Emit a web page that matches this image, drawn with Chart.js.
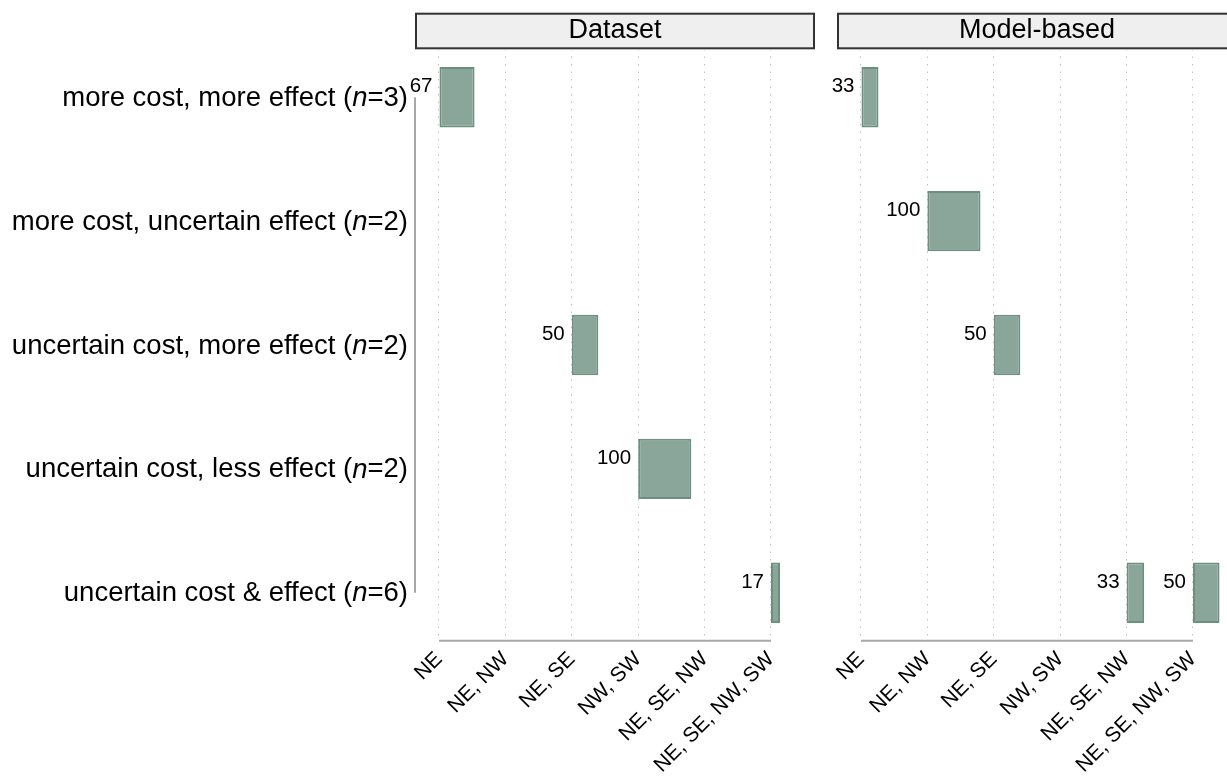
<!DOCTYPE html>
<html>
<head>
<meta charset="utf-8">
<script src="https://cdn.jsdelivr.net/npm/chart.js@4.4.1/dist/chart.umd.min.js"></script>
<style>
  html, body { margin: 0; padding: 0; background: #fff; overflow: hidden; width: 1227px; height: 780px; }
  #wrap { position: relative; width: 1227px; height: 780px; overflow: hidden; }
  canvas { position: absolute; top: 0; }
  #left { left: 0; }
  #right { left: 815px; }
</style>
</head>
<body>
<div id="wrap">
  <canvas id="left" width="815" height="780"></canvas>
  <canvas id="right" width="422" height="780"></canvas>
</div>
<script>
// ---- data ----
const outcomes = [
  'more cost, more effect',
  'more cost, uncertain effect',
  'uncertain cost, more effect',
  'uncertain cost, less effect',
  'uncertain cost & effect'
];
const outcomeN = [3, 2, 2, 2, 6];
const regionSets = ['NE', 'NE, NW', 'NE, SE', 'NW, SW', 'NE, SE, NW', 'NE, SE, NW, SW'];
const panelTitles = ['Dataset', 'Model-based'];

// Dataset panel: one entry per bar (outcome row, region set, percent)
const datasetOutcome = [0, 2, 3, 4];
const datasetRegion  = [0, 2, 3, 5];
const datasetPercent = [67, 50, 100, 17];

// Model-based panel
const modelOutcome = [0, 1, 2, 4, 4];
const modelRegion  = [0, 1, 2, 4, 5];
const modelPercent = [33, 100, 50, 33, 50];

// ---- styling ----
const FONT = '"Liberation Sans", Arial, Helvetica, sans-serif';
const BAR_FILL = '#8aa69b';
const BAR_EDGE = '#6d8f81';
const AXIS_COLOR = '#a8a8a8';
const GRID_COLOR = '#c0c0c0';
const FULL_SHARE = 0.8;   // width of a 100 % tile, in category units

function tiles(rows, cols, pct) {
  return pct.map((p, i) => ({ y: rows[i], x: [cols[i], cols[i] + FULL_SHARE * p / 100] }));
}

const panelPlugin = {
  id: 'panel',
  beforeDraw(chart, args, opts) {
    const { ctx, chartArea: a } = chart;
    ctx.save();
    // facet strip
    ctx.fillStyle = '#efefef';
    ctx.fillRect(a.left, 12.7, a.right - a.left, 36.6);
    ctx.strokeStyle = '#333333';
    ctx.lineWidth = 2;
    ctx.strokeRect(a.left + 1, 13.7, a.right - a.left - 2, 34.6);
    ctx.fillStyle = '#000';
    ctx.font = '27px ' + FONT;
    ctx.textAlign = 'center';
    ctx.textBaseline = 'middle';
    ctx.fillText(opts.title, (a.left + a.right) / 2, 30.5);
    ctx.restore();
  },
  afterDatasetsDraw(chart, args, opts) {
    const { ctx } = chart;
    const meta = chart.getDatasetMeta(0);
    ctx.save();
    ctx.fillStyle = '#000';
    ctx.font = '20.5px ' + FONT;
    ctx.textAlign = 'right';
    ctx.textBaseline = 'middle';
    meta.data.forEach((el, i) => {
      const left = Math.min(el.x, el.base);
      ctx.fillText(String(opts.values[i]), left - 7, el.y - 10.5);
    });
    ctx.restore();
  },
  afterDraw(chart, args, opts) {
    const { ctx, chartArea: a } = chart;
    const xs = chart.scales.x, ys = chart.scales.y;
    ctx.save();
    ctx.strokeStyle = AXIS_COLOR;
    ctx.lineWidth = 2;
    // capped x axis line
    ctx.beginPath();
    ctx.moveTo(xs.getPixelForValue(0), a.bottom - 0.3);
    ctx.lineTo(xs.getPixelForValue(regionSets.length - 1), a.bottom - 0.3);
    ctx.stroke();
    if (opts.rowLabels) {
      // capped y axis line
      ctx.beginPath();
      ctx.moveTo(a.left, ys.getPixelForValue(0));
      ctx.lineTo(a.left, ys.getPixelForValue(outcomes.length - 1));
      ctx.stroke();
      // row labels with italic n
      ctx.fillStyle = '#000';
      ctx.textBaseline = 'middle';
      ctx.textAlign = 'left';
      const normal = '27.5px ' + FONT, italic = 'italic 27.5px ' + FONT;
      outcomes.forEach((txt, i) => {
        const parts = [[txt + ' (', normal], ['n', italic], ['=' + outcomeN[i] + ')', normal]];
        let w = 0;
        parts.forEach(p => { ctx.font = p[1]; w += ctx.measureText(p[0]).width; });
        let x = a.left - 7 - w;
        const y = ys.getPixelForValue(i) + 1;
        parts.forEach(p => { ctx.font = p[1]; ctx.fillText(p[0], x, y); x += ctx.measureText(p[0]).width; });
      });
    }
    ctx.restore();
  }
};

function makePanel(canvasId, title, rows, cols, pct, yWidth, rowLabels) {
  return new Chart(document.getElementById(canvasId), {
    type: 'bar',
    data: {
      datasets: [{
        data: tiles(rows, cols, pct),
        backgroundColor: BAR_FILL,
        borderColor: BAR_EDGE,
        borderWidth: 2,
        borderSkipped: false,
        categoryPercentage: 1,
        barPercentage: 0.488
      }]
    },
    options: {
      indexAxis: 'y',
      responsive: false,
      animation: false,
      layout: { padding: { top: 49, left: 0, right: 0, bottom: 0 } },
      plugins: {
        legend: { display: false },
        tooltip: { enabled: false },
        panel: { title: title, values: pct, rowLabels: rowLabels }
      },
      scales: {
        x: {
          type: 'linear',
          offset: false,
          min: -0.361,
          max: 5.663,
          afterBuildTicks: s => { s.ticks = regionSets.map((_, i) => ({ value: i })); },
          afterFit: s => { s.height = 139; },
          grid: { display: true, offset: false, color: GRID_COLOR, lineWidth: 1, drawTicks: false },
          border: { display: false, dash: [1.5, 6] },
          ticks: {
            autoSkip: false,
            minRotation: 45,
            maxRotation: 45,
            padding: 6,
            color: '#000',
            font: { family: FONT, size: 21 },
            callback: v => regionSets[v]
          }
        },
        y: {
          type: 'linear',
          offset: false,
          reverse: true,
          min: -0.39,
          max: outcomes.length - 1 + 0.39,
          afterBuildTicks: s => { s.ticks = outcomes.map((_, i) => ({ value: i })); },
          afterFit: s => { s.width = yWidth; },
          grid: { display: false, offset: false },
          border: { display: false },
          ticks: { display: false }
        }
      }
    },
    plugins: [panelPlugin]
  });
}

makePanel('left', panelTitles[0], datasetOutcome, datasetRegion, datasetPercent, 415, true);
makePanel('right', panelTitles[1], modelOutcome, modelRegion, modelPercent, 22, false);
</script>
</body>
</html>
